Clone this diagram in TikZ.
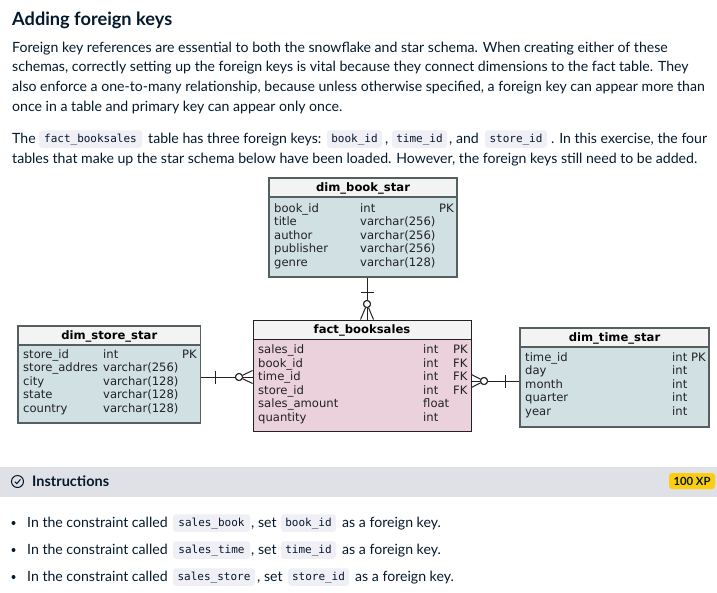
\documentclass[tikz,border=0pt]{standalone}
\usepackage{fontspec}
\setmainfont{Lato}
\newfontfamily\erfont{DejaVu Sans}
\newfontfamily\codefont{DejaVu Sans Mono}
\usetikzlibrary{calc}
\definecolor{ink}{HTML}{05192D}
\definecolor{pillc}{HTML}{EFEFF5}
\definecolor{bandc}{HTML}{E0E1E6}
\definecolor{xpc}{HTML}{FCCE0D}
\definecolor{dimc}{HTML}{D0E0E3}
\definecolor{factc}{HTML}{EAD1DC}
\definecolor{headc}{HTML}{F3F3F3}
\definecolor{dimline}{HTML}{555F60}
\definecolor{erink}{HTML}{222222}
\tikzset{
  body/.style={anchor=base west,inner sep=0pt,text=ink,font=\fontsize{14.1}{16}\selectfont},
  pill/.style={fill=pillc,rounded corners=3pt,inner sep=0pt,text=ink,minimum height=17.5pt,
    text height=8.5pt,text depth=2.2pt,font=\codefont\fontsize{11}{12}\selectfont},
  tbox/.style={draw=dimline,line width=1.1pt,inner sep=0pt,fill=dimc},
  thead/.style={draw=dimline,line width=1.1pt,inner sep=0pt,fill=headc,text=black,
    text height=9.7pt,text depth=1.2pt,font=\erfont\bfseries\fontsize{11.6}{12}\selectfont},
  factline/.style={draw=erink,line width=0.9pt},
  rowt/.style={anchor=base west,inner sep=0pt,text=erink,font=\erfont\fontsize{11.6}{13}\selectfont},
  rel/.style={draw=erink,line width=1pt},
  ring/.style={circle,draw=erink,line width=1pt,fill=white,inner sep=0pt,minimum size=7pt},
}
\begin{document}
\begin{tikzpicture}[x=1pt,y=-1pt]
\useasboundingbox (0,0) rectangle (717,592);
\fill[white] (0,0) rectangle (717,592);
% heading and text
\node[body,font=\bfseries\fontsize{18.2}{20}\selectfont] (title) at (12,25) {Adding foreign keys};
\node[body] (l1) at (12,52) {Foreign key references are essential to both the snowflake and star schema. When creating either of these};
\node[body] (l2) at (12,71.5) {schemas, correctly setting up the foreign keys is vital because they connect dimensions to the fact table. They};
\node[body] (l3) at (12,91.5) {also enforce a one-to-many relationship, because unless otherwise specified, a foreign key can appear more than};
\node[body] (l4) at (12,111.5) {once in a table and primary key can appear only once.};
\node[body] (l5a) at (12,143.5) {The};
\node[pill,minimum width=103pt] (c1) at (90.5,139) {fact\_booksales};
\node[body] (l5b) at (148,143.5) {table has three foreign keys:};
\node[pill,minimum width=55pt] (c2) at (354.5,139) {book\_id};
\node[body] (l5c) at (385,143.5) {,};
\node[pill,minimum width=55pt] (c3) at (419.5,139) {time\_id};
\node[body] (l5d) at (449,143.5) {, and};
\node[pill,minimum width=62pt] (c4) at (516,139) {store\_id};
\node[body] (l5e) at (551,143.5) {. In this exercise, the four};
\node[body] (l6) at (12,163) {tables that make up the star schema below have been loaded. However, the foreign keys still need to be added.};
% tables
\node[tbox,minimum width=188pt,minimum height=99pt] (book) at (363,227.5) {};
\node[thead,minimum width=188pt,minimum height=19pt] (bookh) at (363,187.5) {dim\_book\_star};
\node[tbox,fill=factc,factline,minimum width=218pt,minimum height=111pt] (fact) at (362,375.5) {};
\node[thead,factline,minimum width=218pt,minimum height=19pt] (facth) at (362,329.5) {fact\_booksales};
\node[tbox,minimum width=182.5pt,minimum height=97pt] (store) at (109.25,374.5) {};
\node[thead,minimum width=182.5pt,minimum height=19pt] (storeh) at (109.25,335.5) {dim\_store\_star};
\node[tbox,minimum width=189pt,minimum height=99pt] (time) at (614.5,377.5) {};
\node[thead,minimum width=189pt,minimum height=19pt] (timeh) at (614.5,337.5) {dim\_time\_star};
% rows
\foreach \a/\b [count=\i] in {book\_id/int,title/varchar(256),author/varchar(256),publisher/varchar(256),genre/varchar(128)}{
  \node[rowt] (bn\i) at (274,{212+13.5*(\i-1)}) {\a};
  \node[rowt] (bt\i) at (360,{212+13.5*(\i-1)}) {\b};
}
\node[rowt,anchor=base east] (bk) at (454,212) {PK};
\foreach \a/\b/\c [count=\i] in {sales\_id/int/PK,book\_id/int/FK,time\_id/int/FK,store\_id/int/FK,sales\_amount/float/,quantity/int/}{
  \node[rowt] (fn\i) at (258,{353.5+13.5*(\i-1)}) {\a};
  \node[rowt] (ft\i) at (423,{353.5+13.5*(\i-1)}) {\b};
  \node[rowt] (fk\i) at (453,{353.5+13.5*(\i-1)}) {\c};
}
\foreach \a/\b [count=\i] in {store\_id/int,store\_addres/varchar(256),city/varchar(128),state/varchar(128),country/varchar(128)}{
  \node[rowt] (sn\i) at (23,{358+13.5*(\i-1)}) {\a};
  \node[rowt] (st\i) at (103,{358+13.5*(\i-1)}) {\b};
}
\node[rowt,anchor=base east] (sk) at (197,358) {PK};
\foreach \a/\b [count=\i] in {time\_id/int PK,day/int,month/int,quarter/int,year/int}{
  \node[rowt] (tn\i) at (525,{361+13.5*(\i-1)}) {\a};
  \node[rowt] (tt\i) at (672,{361+13.5*(\i-1)}) {\b};
}
% connectors
\node[ring] (rb) at (367,304) {};
\node[ring] (rs) at (239,377) {};
\node[ring] (rt) at (484,381) {};
\coordinate (cb1) at (360.5,292); \coordinate (cb2) at (373.5,292);
\coordinate (cs1) at (215,370.5); \coordinate (cs2) at (215,383.5);
\coordinate (ct1) at (505,374.5); \coordinate (ct2) at (505,387.5);
\draw[rel] (book.south -| rb) -- (rb) -- (fact.north -| rb);
\draw[rel] (cb1) -- (cb2);
\draw[rel] (rb) -- ($(fact.north -| rb)+(-6.5,0)$);
\draw[rel] (rb) -- ($(fact.north -| rb)+(6.5,0)$);
\draw[rel] (store.east |- rs) -- (rs) -- (fact.west |- rs);
\draw[rel] (cs1) -- (cs2);
\draw[rel] (rs) -- ($(fact.west |- rs)+(0,-6.5)$);
\draw[rel] (rs) -- ($(fact.west |- rs)+(0,6.5)$);
\draw[rel] (time.west |- rt) -- (rt) -- (fact.east |- rt);
\draw[rel] (ct1) -- (ct2);
\draw[rel] (rt) -- ($(fact.east |- rt)+(0,-6.5)$);
\draw[rel] (rt) -- ($(fact.east |- rt)+(0,6.5)$);
\node[ring] at (rb) {};
\node[ring] at (rs) {};
\node[ring] at (rt) {};
% instructions band
\fill[bandc] (0,467) rectangle (717,497);
\node[circle,draw=ink,line width=1pt,inner sep=0pt,minimum size=12pt] (icon) at (17.5,481.5) {};
\draw[ink,line width=1pt] (14.8,481.7) -- (16.8,483.7) -- (20.4,479.4);
\node[body,font=\bfseries\fontsize{14.5}{16}\selectfont] (instr) at (32,486) {Instructions};
\node[fill=xpc,rounded corners=3pt,inner sep=0pt,minimum width=46pt,minimum height=16pt,text=ink,
  font=\bfseries\fontsize{11.3}{12}\selectfont] (xp) at (692,481) {100 XP};
% bullets
\foreach \y/\n in {527/1,554/2,581/3}{
  \fill[ink] (13.5,\y-4) circle (2);
  \node[body] (b\n) at (27,\y) {In the constraint called};
}
\node[pill,minimum width=77pt] (k1) at (211.5,523) {sales\_book};
\node[body] (s1) at (251,527) {, set};
\node[pill,minimum width=55pt] (k2) at (308.5,523) {book\_id};
\node[body] (e1) at (342,527) {as a foreign key.};
\node[pill,minimum width=77pt] (k3) at (211.5,550) {sales\_time};
\node[body] (s2) at (251,554) {, set};
\node[pill,minimum width=55pt] (k4) at (308.5,550) {time\_id};
\node[body] (e2) at (342,554) {as a foreign key.};
\node[pill,minimum width=82pt] (k5) at (214,577) {sales\_store};
\node[body] (s3) at (257,581) {, set};
\node[pill,minimum width=61pt] (k6) at (318.5,577) {store\_id};
\node[body] (e3) at (355,581) {as a foreign key.};
\end{tikzpicture}
\end{document}
